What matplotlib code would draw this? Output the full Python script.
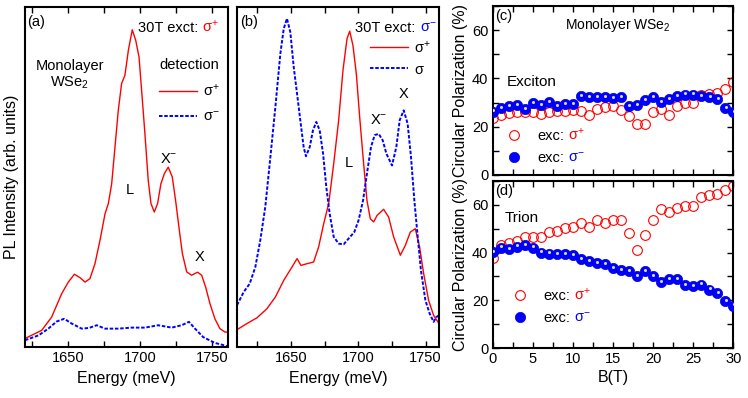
import numpy as np
import matplotlib
matplotlib.use("Agg")
import matplotlib.pyplot as plt
from matplotlib.ticker import MultipleLocator, NullLocator
from matplotlib.transforms import offset_copy

plt.rcParams['font.family'] = ['Liberation Sans', 'DejaVu Sans']
plt.rcParams['mathtext.default'] = 'regular'

# ---------------- data ----------------
# Panel (a): 30T, excitation sigma+ (PL intensity, arb. units, normalised to axis height)
a_red_E = [1620, 1631.6, 1638.5, 1645.5, 1650.1, 1654.3, 1658.2, 1661.7, 1665.1, 1668.6, 1672.1,
           1675.6, 1677.9, 1680.2, 1682.5, 1684.8, 1687.1, 1689.4, 1691.8, 1694.5, 1696.9,
           1699.2, 1701.0, 1703.3, 1705.6, 1707.5, 1709.8, 1712.1, 1714.4, 1716.8, 1719.5,
           1722.3, 1724.6, 1726.9, 1729.3, 1732.3, 1735.7, 1739.9, 1742.7, 1745.5, 1748.5,
           1751.9, 1755.4, 1758.9, 1761]
a_red_I = [0.025, 0.049, 0.088, 0.157, 0.191, 0.214, 0.204, 0.191, 0.201, 0.245, 0.314,
           0.392, 0.422, 0.480, 0.588, 0.696, 0.775, 0.799, 0.873, 0.933, 0.902,
           0.853, 0.755, 0.627, 0.490, 0.422, 0.397, 0.422, 0.480, 0.510, 0.529,
           0.500, 0.431, 0.353, 0.275, 0.221, 0.211, 0.220, 0.211, 0.176, 0.127,
           0.083, 0.054, 0.044, 0.044]
a_blue_E = [1620, 1629.3, 1636.2, 1642, 1647.3, 1652.4, 1659.4, 1664.4, 1669.8, 1675.6, 1684.8,
            1694.1, 1703.3, 1712.6, 1721.9, 1728.8, 1733.9, 1738.1, 1743.8, 1751.9, 1761]
a_blue_I = [0.020, 0.034, 0.054, 0.075, 0.083, 0.069, 0.054, 0.056, 0.064, 0.054, 0.054,
            0.057, 0.057, 0.064, 0.057, 0.064, 0.074, 0.054, 0.029, 0.012, 0.002]

# Panel (b): 30T, excitation sigma-
b_blue_E = [1610, 1615, 1619.4, 1623.6, 1627.3, 1631, 1634.8, 1638.5, 1642.2, 1644.7, 1647.1,
            1649.6, 1652.1, 1654.6, 1657, 1659.5, 1661.2, 1664, 1666.4, 1668.9, 1671.4, 1673.9,
            1676.3, 1678.8, 1681.8, 1685.5, 1689.2, 1692.9, 1697.1, 1700.3, 1703.6, 1706.5,
            1709.5, 1712.2, 1715.2, 1718.2, 1720.9, 1725.1, 1728.3, 1730.8, 1733.8, 1736.7,
            1739.2, 1741.7, 1744.2, 1746.6, 1749.9, 1753.1, 1756, 1758, 1760]
b_blue_I = [0.123, 0.162, 0.186, 0.235, 0.314, 0.412, 0.559, 0.706, 0.863, 0.936, 0.966,
            0.926, 0.824, 0.745, 0.667, 0.588, 0.561, 0.588, 0.637, 0.662, 0.637, 0.569,
            0.471, 0.392, 0.324, 0.304, 0.302, 0.319, 0.338, 0.373, 0.431, 0.510,
            0.588, 0.623, 0.627, 0.608, 0.569, 0.534, 0.588, 0.667, 0.696, 0.657,
            0.559, 0.431, 0.324, 0.225, 0.137, 0.098, 0.074, 0.088, 0.093]
b_red_E = [1610, 1617.4, 1624.9, 1632.3, 1638.5, 1644.7, 1650.8, 1654.6, 1657.5, 1662, 1666.9,
           1670.6, 1674.4, 1678.1, 1681.8, 1685.5, 1688.7, 1691.7, 1693.7, 1696.1, 1698.6,
           1701.1, 1703.6, 1706.5, 1709, 1711.5, 1714, 1718.9, 1722.6, 1726.3, 1731.3, 1735,
           1738.7, 1742.4, 1745.6, 1748.6, 1752.3, 1756, 1760]
b_red_I = [0.051, 0.069, 0.086, 0.113, 0.147, 0.196, 0.235, 0.260, 0.240, 0.245, 0.250,
           0.294, 0.363, 0.422, 0.539, 0.667, 0.814, 0.907, 0.929, 0.887, 0.804,
           0.676, 0.559, 0.431, 0.377, 0.368, 0.387, 0.405, 0.382, 0.324, 0.270, 0.299,
           0.338, 0.348, 0.294, 0.216, 0.137, 0.093, 0.069]

# Panels (c),(d): circular polarization (%) vs B (T)
B_field = list(range(0, 31))
c_exc_plus = [23.6, 24.9, 25.6, 26.0, 26.3, 26.3, 25.4, 25.9, 26.6, 26.6, 27.0, 26.6, 24.9, 27.3,
              28.1, 28.7, 27.0, 24.3, 21.1, 21.1, 26.0, 27.3, 24.9, 28.7, 29.8, 29.8, 33.3, 33.5,
              34.0, 35.6, 38.5]
c_exc_minus = [26.3, 27.7, 28.4, 29.1, 27.4, 29.8, 29.1, 30.2, 28.4, 29.5, 29.4, 32.8, 32.3, 32.3,
               32.2, 31.9, 32.2, 28.4, 29.1, 30.9, 32.3, 30.1, 31.6, 32.6, 33.3, 33.3, 32.6, 32.2,
               31.6, 27.7, 26.0]
d_exc_plus = [37.9, 43.0, 43.9, 44.9, 46.7, 46.7, 46.6, 48.7, 49.1, 50.5, 50.8, 52.6, 50.8, 53.6,
              52.3, 53.6, 53.6, 48.4, 41.1, 47.3, 53.7, 58.2, 56.8, 58.5, 59.6, 59.6, 63.1, 64.1,
              64.5, 66.3, 68.0]
d_exc_minus = [40.3, 42.1, 41.4, 42.5, 43.0, 42.1, 40.0, 39.6, 39.3, 39.3, 39.0, 37.4, 36.5, 35.5,
               35.1, 33.4, 32.7, 32.3, 30.2, 32.3, 30.2, 27.6, 28.8, 29.0, 26.4, 25.9, 26.6, 24.5,
               23.1, 19.6, 17.8]

RED = '#ff0000'
BLUE = '#0000ff'
FS = 10.5

W, H = 748, 398
fig = plt.figure(figsize=(W / 100, H / 100), dpi=100)


def add_ax(x0, x1, ytop, ybot):
    return fig.add_axes([x0 / W, 1 - ybot / H, (x1 - x0) / W, (ybot - ytop) / H])


ax_a = add_ax(25, 228, 7, 347)
ax_b = add_ax(237, 439, 7, 347)
ax_c = add_ax(492.5, 733.3, 6, 175)
ax_d = add_ax(492.5, 733.3, 181, 348)

for ax in (ax_a, ax_b, ax_c, ax_d):
    for s in ax.spines.values():
        s.set_linewidth(1.5)
    ax.tick_params(which='both', direction='in', top=True, right=True, labelsize=FS,
                   width=1.0, pad=3)
    ax.tick_params(which='major', length=4)
    ax.tick_params(which='minor', length=4)

dotted = (0, (1.8, 0.9))

# ---------- (a) ----------
ax_a.plot(a_red_E, a_red_I, color=RED, lw=1.0, label='σ$^{+}$')
ax_a.plot(a_blue_E, a_blue_I, color=BLUE, lw=1.4, ls=dotted, label='σ$^{-}$')
ax_a.set_xlim(1620, 1761)
ax_a.set_ylim(0, 1)
ax_a.xaxis.set_major_locator(MultipleLocator(50))
ax_a.xaxis.set_minor_locator(MultipleLocator(25))
ax_a.yaxis.set_major_locator(NullLocator())
ax_a.tick_params(axis='y', left=False, right=False)
ax_a.set_xlabel('Energy (meV)', fontsize=11.5, labelpad=4)
ax_a.set_ylabel('PL Intensity (arb. units)', fontsize=11.5, labelpad=4)
ax_a.text(0.012, 0.957, '(a)', transform=ax_a.transAxes, fontsize=FS, va='center', ha='left')
t = ax_a.text(0.555, 0.938, '30T exct:', transform=ax_a.transAxes, fontsize=FS, va='center',
              ha='left')
ax_a.annotate('σ$^{+}$', xy=(1, 0), xycoords=t, xytext=(3, 0), textcoords='offset points',
              ha='left', va='bottom', color=RED, fontsize=FS)
ax_a.text(0.22, 0.80, 'Monolayer\nWSe$_2$', transform=ax_a.transAxes, fontsize=FS,
          ha='center', va='center', multialignment='center', linespacing=1.1)
ax_a.legend(loc='upper left', bbox_to_anchor=(0.66, 0.85), frameon=False, fontsize=FS,
            title='detection', title_fontsize=FS, alignment='left', handlelength=2.6,
            handletextpad=0.4, labelspacing=0.75, borderpad=0, borderaxespad=0)
ax_a.text(1692.9, 0.462, 'L', fontsize=FS, ha='center', va='center')
ax_a.text(1720, 0.553, 'X$^{-}$', fontsize=FS, ha='center', va='center')
ax_a.text(1741.5, 0.265, 'X', fontsize=FS, ha='center', va='center')

# ---------- (b) ----------
ax_b.plot(b_red_E, b_red_I, color=RED, lw=1.0, label='σ$^{+}$')
ax_b.plot(b_blue_E, b_blue_I, color=BLUE, lw=1.4, ls=dotted, label='σ')
ax_b.set_xlim(1610, 1760)
ax_b.set_ylim(0, 1)
ax_b.xaxis.set_major_locator(MultipleLocator(50))
ax_b.xaxis.set_minor_locator(MultipleLocator(25))
ax_b.yaxis.set_major_locator(NullLocator())
ax_b.tick_params(axis='y', left=False, right=False)
ax_b.set_xlabel('Energy (meV)', fontsize=11.5, labelpad=4)
ax_b.text(0.015, 0.957, '(b)', transform=ax_b.transAxes, fontsize=FS, va='center', ha='left')
t = ax_b.text(0.585, 0.938, '30T exct:', transform=ax_b.transAxes, fontsize=FS, va='center',
              ha='left')
ax_b.annotate('σ$^{-}$', xy=(1, 0), xycoords=t, xytext=(3, 0), textcoords='offset points',
              ha='left', va='bottom', color=BLUE, fontsize=FS)
ax_b.legend(loc='upper left', bbox_to_anchor=(0.66, 0.905), frameon=False, fontsize=FS,
            handlelength=2.6, handletextpad=0.4, labelspacing=0.5, borderpad=0, borderaxespad=0)
ax_b.text(1693.2, 0.541, 'L', fontsize=FS, ha='center', va='center')
ax_b.text(1715.3, 0.668, 'X$^{-}$', fontsize=FS, ha='center', va='center')
ax_b.text(1733.9, 0.744, 'X', fontsize=FS, ha='center', va='center')


# ---------- (c),(d) ----------
def sphere_points(ax, x, y, label):
    h = ax.plot(x, y, ls='none', marker='o', ms=7.4, mfc=BLUE, mec='#0000cc', mew=0.5,
                label=label, zorder=3)[0]
    hl = offset_copy(ax.transData, fig=fig, x=0.3, y=1.2, units='dots')
    ax.plot(x, y, ls='none', marker='o', ms=2.2, mfc='#d8d8ff', mec='none', transform=hl,
            zorder=4)
    return h


def open_points(ax, x, y, label):
    return ax.plot(x, y, ls='none', marker='o', ms=7.0, mfc='none', mec=RED, mew=0.8,
                   label=label, zorder=2)[0]


for ax, yp, ym, name, lab in ((ax_c, c_exc_plus, c_exc_minus, 'Exciton', '(c)'),
                              (ax_d, d_exc_plus, d_exc_minus, 'Trion', '(d)')):
    open_points(ax, B_field, yp, 'exc:')
    sphere_points(ax, B_field, ym, 'exc:')
    ax.set_xlim(0, 30)
    ax.set_ylim(0, 70)
    ax.xaxis.set_major_locator(MultipleLocator(5))
    ax.xaxis.set_minor_locator(MultipleLocator(2.5))
    ax.yaxis.set_major_locator(MultipleLocator(20))
    ax.yaxis.set_minor_locator(MultipleLocator(10))
    ax.set_ylabel('Circular Polarization (%)', fontsize=11.5, labelpad=3)
    ax.text(0.012, 0.94, lab, transform=ax.transAxes, fontsize=FS, va='center', ha='left')

ax_c.text(0.06, 0.55, 'Exciton', transform=ax_c.transAxes, fontsize=FS + 0.5, va='center',
          ha='left')
ax_d.text(0.05, 0.78, 'Trion', transform=ax_d.transAxes, fontsize=FS + 0.5, va='center',
          ha='left')
ax_c.tick_params(axis='x', labelbottom=False)
ax_c.text(15.6, 62.1, 'Monolayer WSe$_2$', fontsize=FS - 0.5, ha='center', va='center')
ax_d.set_xlabel('B(T)', fontsize=11.5, labelpad=3)

for ax, anchor in ((ax_c, (0.052, 0.272)), (ax_d, (0.077, 0.353))):
    lg = ax.legend(loc='upper left', bbox_to_anchor=anchor, frameon=False, fontsize=FS,
                   handlelength=1.2, handletextpad=1.0, labelspacing=0.55, borderpad=0,
                   borderaxespad=0)
    texts = lg.get_texts()
    ax.annotate('σ$^{+}$', xy=(1, 0), xycoords=texts[0], xytext=(3, 0),
                textcoords='offset points', ha='left', va='bottom', color=RED, fontsize=FS,
                zorder=10)
    ax.annotate('σ$^{-}$', xy=(1, 0), xycoords=texts[1], xytext=(3, 0),
                textcoords='offset points', ha='left', va='bottom', color=BLUE, fontsize=FS,
                zorder=10)

fig.savefig('out.png', dpi=100)
